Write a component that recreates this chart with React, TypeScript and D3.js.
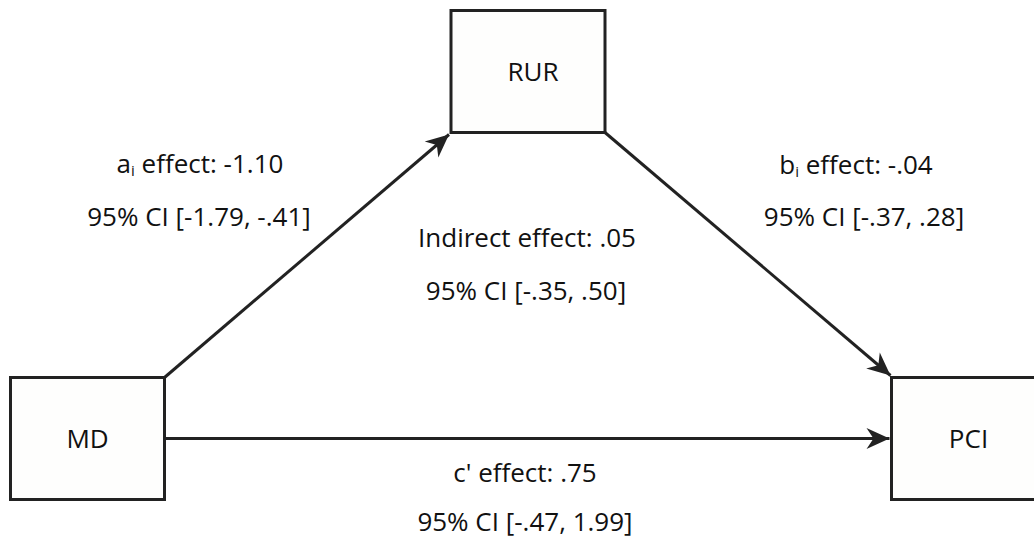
import React from "react";
import * as d3 from "d3";

// ---- data ----
const nodeNames = ["MD", "RUR", "PCI"];
const pathNames = ["a", "b", "Indirect", "c'"];
const pathSub = ["i", "i", "", ""];
const effects = [-1.1, -0.04, 0.05, 0.75];
const ciLow = [-1.79, -0.37, -0.35, -0.47];
const ciHigh = [-0.41, 0.28, 0.5, 1.99];

// ---- layout ----
const W = 1034;
const H = 539;
const BOX_W = 154;
const BOX_H = 122;
const nodeGrid = [
  { col: 0, row: 1 },
  { col: 1, row: 0 },
  { col: 2, row: 1 },
];
const labelPos = [
  { x: 200, y1: 173, x2: 199, y2: 226 },
  { x: 856, y1: 174, x2: 864, y2: 226 },
  { x: 527, y1: 247, x2: 526, y2: 300 },
  { x: 525, y1: 482, x2: 525, y2: 531 },
];

const fmt = (v: number) => v.toFixed(2).replace(/^(-?)0\./, "$1.");

export default function App() {
  const x = d3.scaleLinear().domain([0, 2]).range([87.5, 968.5]);
  const y = d3.scaleLinear().domain([0, 1]).range([71.5, 438.5]);
  const stroke = "#222";
  const font = "'Open Sans', sans-serif";
  const fs = 26;

  const boxes = nodeNames.map((name, i) => {
    const cx = x(nodeGrid[i].col);
    const cy = y(nodeGrid[i].row);
    return { name, cx, cy, x0: cx - BOX_W / 2, x1: cx + BOX_W / 2, y0: cy - BOX_H / 2, y1: cy + BOX_H / 2 };
  });
  const [md, rur, pci] = boxes;
  const line = d3.line();
  const arrows: [number, number][][] = [
    [[md.x1, md.y0], [rur.x0 - 2, rur.y1 + 2]],
    [[rur.x1, rur.y1], [pci.x0 - 1, pci.y0 - 2]],
    [[md.x1, md.cy], [pci.x0 - 2, md.cy]],
  ];

  return (
    <svg width={W} height={H} style={{ display: "block", position: "absolute", left: 0, top: 0, background: "#fff" }}>
      <defs>
        <marker id="arr" markerUnits="userSpaceOnUse" viewBox="-26 -13 28 26" refX={0} refY={0} markerWidth={28} markerHeight={26} orient="auto">
          <path d="M0,0 L-23,-10.5 L-16,0 L-23,10.5 Z" fill={stroke} />
        </marker>
      </defs>
      {arrows.map((a, i) => (
        <path key={i} d={line(a) || ""} stroke={stroke} strokeWidth={3} fill="none" markerEnd="url(#arr)" />
      ))}
      {boxes.map((b) => (
        <g key={b.name}>
          <rect x={b.x0} y={b.y0} width={BOX_W} height={BOX_H} fill="#fefefd" stroke={stroke} strokeWidth={3} />
          <text x={b.cx + (b.name === "RUR" ? 5 : 0)} y={b.cy + 9} textAnchor="middle" fontFamily={font} fontSize={fs} fill="#111">
            {b.name}
          </text>
        </g>
      ))}
      {pathNames.map((p, i) => (
        <g key={p}>
          <text x={labelPos[i].x} y={labelPos[i].y1} textAnchor="middle" fontFamily={font} fontSize={fs} fill="#111">
            {p}
            {pathSub[i] ? (
              <tspan fontSize={15} dy={3}>{pathSub[i]}</tspan>
            ) : null}
            {pathSub[i] ? <tspan dy={-3}>{" effect: " + fmt(effects[i])}</tspan> : " effect: " + fmt(effects[i])}
          </text>
          <text x={labelPos[i].x2} y={labelPos[i].y2} textAnchor="middle" fontFamily={font} fontSize={fs} fill="#111">
            {`95% CI [${fmt(ciLow[i])}, ${fmt(ciHigh[i])}]`}
          </text>
        </g>
      ))}
    </svg>
  );
}
